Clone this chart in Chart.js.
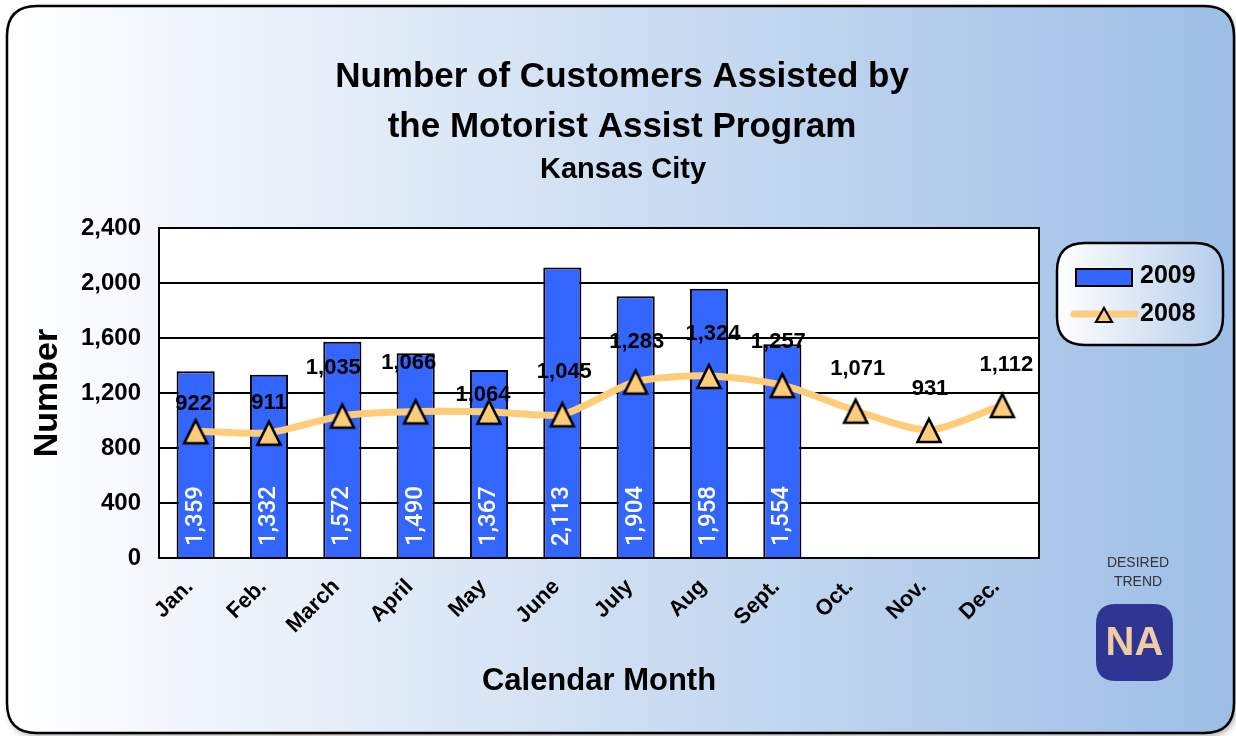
<!DOCTYPE html>
<html><head><meta charset="utf-8">
<script src="https://cdn.jsdelivr.net/npm/chart.js@4.4.0/dist/chart.umd.min.js"></script>
<style>html,body{margin:0;padding:0;background:#fff;overflow:hidden}#wrap{width:1236px;height:736px;position:relative}</style>
</head><body><div id="wrap"><canvas id="c" width="1236" height="736"></canvas></div>
<script>
const months = ['Jan.','Feb.','March','April','May','June','July','Aug','Sept.','Oct.','Nov.','Dec.'];
const values2009 = [1359,1332,1572,1490,1367,2113,1904,1958,1554,null,null,null];
const values2008 = [922,911,1035,1066,1064,1045,1283,1324,1257,1071,931,1112];
const yTicks = [0,400,800,1200,1600,2000,2400];
const titleLines = ['Number of Customers Assisted by','the Motorist Assist Program'];
const subtitleText = 'Kansas City';
const yAxisTitle = 'Number';
const xAxisTitle = 'Calendar Month';
const seriesNames = ['2009','2008'];
const trendLabel = ['DESIRED','TREND'];
const trendBadge = 'NA';

// style: offset (px) of each 2008 value label from its marker
const labelOffsetY = [-27,-30,-48,-48,-17,-42,-40,-42,-43,-42,-41,-40];
const labelOffsetX = [-2,0,-9,-7,-6,2,1,4,-4,2,1,4];

const FONT = '"Liberation Sans", Arial, sans-serif';
const fmt = v => v.toLocaleString('en-US');
const BAR_COLOR = '#3366ff';
const LINE_COLOR = '#ffcc7a';

function rr(ctx, x, y, w, h, r) {
  ctx.beginPath();
  ctx.moveTo(x + r, y);
  ctx.lineTo(x + w - r, y);
  ctx.quadraticCurveTo(x + w, y, x + w, y + r);
  ctx.lineTo(x + w, y + h - r);
  ctx.quadraticCurveTo(x + w, y + h, x + w - r, y + h);
  ctx.lineTo(x + r, y + h);
  ctx.quadraticCurveTo(x, y + h, x, y + h - r);
  ctx.lineTo(x, y + r);
  ctx.quadraticCurveTo(x, y, x + r, y);
  ctx.closePath();
}

function triPath(ctx, cx, cy, w, h) {
  ctx.beginPath();
  ctx.moveTo(cx, cy - h / 2);
  ctx.lineTo(cx + w / 2, cy + h / 2);
  ctx.lineTo(cx - w / 2, cy + h / 2);
  ctx.closePath();
}

const marker = document.createElement('canvas');
marker.width = 30; marker.height = 30;
(function () {
  const m = marker.getContext('2d');
  triPath(m, 15, 15.5, 23, 23);
  m.fillStyle = LINE_COLOR; m.fill();
  m.lineWidth = 2.6; m.lineJoin = 'miter'; m.strokeStyle = '#000'; m.stroke();
})();

const decorPlugin = {
  id: 'decor',
  beforeDraw(chart) {
    const ctx = chart.ctx, W = chart.width, H = chart.height;
    ctx.save();
    ctx.fillStyle = '#ffffff';
    ctx.fillRect(0, 0, W, H);
    ctx.save();
    ctx.shadowColor = 'rgba(0,0,0,0.35)';
    ctx.shadowBlur = 6; ctx.shadowOffsetX = 2; ctx.shadowOffsetY = 3;
    rr(ctx, 7, 6, 1227, 727, 30);
    const g = ctx.createLinearGradient(7, 0, 1234, 0);
    g.addColorStop(0, '#ffffff');
    g.addColorStop(1, '#9dbee6');
    ctx.fillStyle = g;
    ctx.fill();
    ctx.restore();
    rr(ctx, 7, 6, 1227, 727, 30);
    ctx.lineWidth = 2.5; ctx.strokeStyle = '#000';
    ctx.stroke();
    const a = chart.chartArea;
    ctx.fillStyle = '#ffffff';
    ctx.fillRect(a.left, a.top, a.right - a.left, a.bottom - a.top);
    ctx.fillStyle = '#000';
    ctx.textAlign = 'center';
    ctx.textBaseline = 'middle';
    ctx.font = 'bold 35px ' + FONT;
    ctx.fillText(titleLines[0], 622, 77);
    ctx.fillText(titleLines[1], 622, 127);
    ctx.font = 'bold 29px ' + FONT;
    ctx.fillText(subtitleText, 623, 170);
    ctx.restore();
  },
  beforeDatasetsDraw(chart) {
    const ctx = chart.ctx, a = chart.chartArea;
    ctx.save();
    ctx.strokeStyle = '#000'; ctx.lineWidth = 2;
    ctx.strokeRect(a.left, a.top, a.right - a.left, a.bottom - a.top);
    ctx.restore();
  },
  afterDatasetsDraw(chart) {
    const ctx = chart.ctx;
    const y0 = chart.scales.y.getPixelForValue(0);
    ctx.save();
    const barMeta = chart.getDatasetMeta(1);
    barMeta.data.forEach((el, i) => {
      const v = values2009[i];
      if (v == null) return;
      ctx.save();
      ctx.translate(el.x, y0 - 12);
      ctx.rotate(-Math.PI / 2);
      ctx.font = '500 24px Roboto, ' + FONT;
      ctx.fillStyle = '#ffffff';
      ctx.textAlign = 'left';
      ctx.textBaseline = 'middle';
      ctx.fillText(fmt(v), 0, 0);
      ctx.restore();
    });
    const lineMeta = chart.getDatasetMeta(0);
    ctx.font = 'bold 22px ' + FONT;
    ctx.fillStyle = '#000';
    ctx.textAlign = 'center';
    ctx.textBaseline = 'middle';
    lineMeta.data.forEach((el, i) => {
      const v = values2008[i];
      if (v == null) return;
      ctx.fillText(fmt(v), el.x + labelOffsetX[i], el.y + labelOffsetY[i]);
    });
    ctx.restore();
  },
  afterDraw(chart) {
    const ctx = chart.ctx;
    ctx.save();
    rr(ctx, 1057, 243, 166, 102, 28);
    const g = ctx.createLinearGradient(1057, 0, 1223, 0);
    g.addColorStop(0, '#ffffff');
    g.addColorStop(1, '#b5cdeb');
    ctx.fillStyle = g; ctx.fill();
    ctx.lineWidth = 2.5; ctx.strokeStyle = '#000'; ctx.stroke();
    ctx.fillStyle = BAR_COLOR;
    ctx.fillRect(1076, 269, 56, 17);
    ctx.lineWidth = 2; ctx.strokeStyle = '#000';
    ctx.strokeRect(1076, 269, 56, 17);
    ctx.beginPath();
    ctx.moveTo(1074, 314); ctx.lineTo(1135, 314);
    ctx.lineWidth = 7; ctx.lineCap = 'round'; ctx.strokeStyle = LINE_COLOR; ctx.stroke();
    triPath(ctx, 1104, 315, 16, 14);
    ctx.fillStyle = LINE_COLOR; ctx.fill();
    ctx.lineWidth = 2.2; ctx.lineCap = 'butt'; ctx.strokeStyle = '#000'; ctx.stroke();
    ctx.fillStyle = '#000';
    ctx.font = 'bold 25px ' + FONT;
    ctx.textAlign = 'left'; ctx.textBaseline = 'middle';
    ctx.fillText(seriesNames[0], 1140, 276);
    ctx.fillText(seriesNames[1], 1140, 314);
    ctx.fillStyle = '#333';
    ctx.font = '14px ' + FONT;
    ctx.textAlign = 'center';
    ctx.fillText(trendLabel[0], 1138, 563);
    ctx.fillText(trendLabel[1], 1138, 582);
    rr(ctx, 1096, 604, 77, 77, 20);
    ctx.fillStyle = '#2e3592'; ctx.fill();
    ctx.fillStyle = '#f0cba6';
    ctx.font = 'bold 40px ' + FONT;
    ctx.fillText(trendBadge, 1134.5, 644);
    ctx.restore();
  }
};

new Chart(document.getElementById('c'), {
  data: {
    labels: months,
    datasets: [
      {
        type: 'line', label: seriesNames[1], data: values2008, order: 0,
        borderColor: LINE_COLOR, borderWidth: 7, tension: 0.25,
        pointStyle: marker, pointRadius: 15, pointHoverRadius: 15
      },
      {
        type: 'bar', label: seriesNames[0], data: values2009, order: 1,
        backgroundColor: BAR_COLOR, borderColor: '#000', borderWidth: 2,
        barPercentage: 0.52, categoryPercentage: 1
      }
    ]
  },
  options: {
    responsive: false, animation: false, devicePixelRatio: 1,
    layout: { padding: { left: 0, top: 228, right: 197, bottom: 0 } },
    plugins: { legend: { display: false }, tooltip: { enabled: false }, title: { display: false } },
    scales: {
      x: {
        grid: { display: false, drawTicks: false },
        border: { display: true, color: '#000', width: 2 },
        ticks: { color: '#000', font: { family: FONT, size: 22, weight: 'bold' }, maxRotation: 45, minRotation: 45, autoSkip: false, padding: 16, labelOffset: -6 },
        title: { display: true, text: xAxisTitle, color: '#000', font: { family: FONT, size: 31, weight: 'bold' }, padding: { top: 0, bottom: 36 } },
        afterFit(s) { s.height = 178; }
      },
      y: {
        min: 0, max: 2400,
        afterBuildTicks(s) { s.ticks = yTicks.map(v => ({ value: v })); },
        grid: { color: '#000', lineWidth: 2, drawTicks: false },
        border: { display: true, color: '#000', width: 2 },
        ticks: { color: '#000', font: { family: FONT, size: 24, weight: 'bold' }, padding: 18, callback: v => fmt(v) },
        title: { display: true, text: yAxisTitle, color: '#000', font: { family: FONT, size: 34, weight: 'bold' }, padding: { top: 27, bottom: 0 } },
        afterFit(s) { s.width = 159; }
      }
    }
  },
  plugins: [decorPlugin]
});
</script>
</body></html>
